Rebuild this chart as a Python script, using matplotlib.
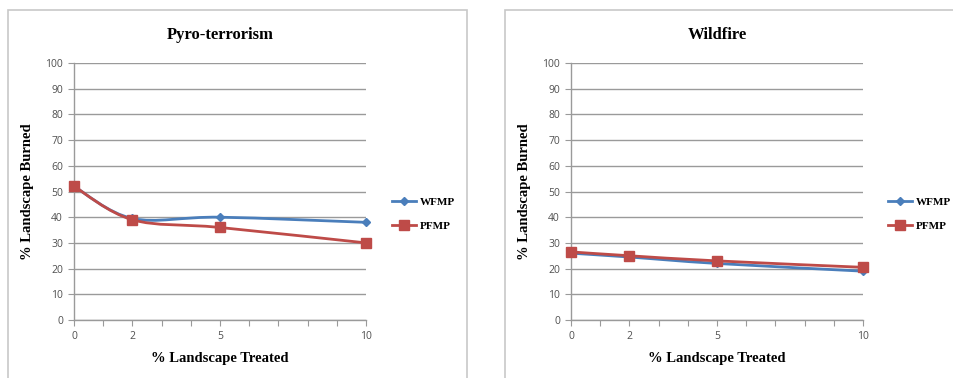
import matplotlib.pyplot as plt
import numpy as np
from matplotlib.path import Path
from matplotlib.patches import PathPatch, Rectangle
from matplotlib.lines import Line2D

# % landscape treated
treated = [0, 2, 5, 10]

# pyro-terrorism scenario
pyro_wfmp = [52, 39.5, 40, 38]
pyro_pfmp = [52, 39, 36, 30]

# wildfire scenario
wild_wfmp = [26, 24.5, 22, 19]
wild_pfmp = [26.5, 25, 23, 20.5]

titles = ['Pyro-terrorism', 'Wildfire']
series_names = ['WFMP', 'PFMP']
x_labels = ['0', '', '2', '', '', '5', '', '', '', '', '10']

BLUE = '#4A7EBB'
RED = '#BE4B48'
GRID = '#9A9A9A'
SERIF = 'Liberation Serif'
SANS = 'Open Sans'

W, H = 954, 378


def smooth_path(xs, ys):
    # Excel-style smoothed line: cubic bezier through every point
    pts = np.column_stack([xs, ys]).astype(float)
    n = len(pts)
    verts = [pts[0]]
    codes = [Path.MOVETO]
    for i in range(n - 1):
        p0 = pts[max(i - 1, 0)]
        p1 = pts[i]
        p2 = pts[i + 1]
        p3 = pts[min(i + 2, n - 1)]
        c1 = p1 + (p2 - p0) / 6.0
        c2 = p2 - (p3 - p1) / 6.0
        verts += [c1, c2, p2]
        codes += [Path.CURVE4] * 3
    return Path(verts, codes)


fig = plt.figure(figsize=(W / 100, H / 100), dpi=100)

# chart area frames
fig.add_artist(Rectangle((8 / W, -0.05), (467 - 8) / W, 1.05 - 10 / H,
                         transform=fig.transFigure, fill=False,
                         edgecolor='#C8C8C8', linewidth=1.2))
fig.add_artist(Rectangle((505 / W, -0.05), 0.6, 1.05 - 10 / H,
                         transform=fig.transFigure, fill=False,
                         edgecolor='#C8C8C8', linewidth=1.2))

panels = [
    (74, titles[0], pyro_wfmp, pyro_pfmp, 392),
    (571, titles[1], wild_wfmp, wild_pfmp, 888),
]

for left_px, title, wfmp, pfmp, leg_px in panels:
    ax = fig.add_axes([left_px / W, (H - 320) / H, 292 / W, 257 / H])
    ax.set_xlim(0, 10)
    ax.set_ylim(0, 100)
    ax.set_yticks(range(0, 101, 10))
    ax.set_xticks(range(0, 11))
    ax.set_xticklabels(x_labels)
    ax.grid(axis='y', color=GRID, linewidth=1.0)
    ax.set_axisbelow(True)
    for side in ['top', 'right']:
        ax.spines[side].set_visible(False)
    for side in ['left', 'bottom']:
        ax.spines[side].set_color(GRID)
        ax.spines[side].set_linewidth(1.0)
    ax.tick_params(length=4, width=0.8, color=GRID, labelsize=7.5,
                   labelcolor='#505050', pad=4)
    for lab in ax.get_xticklabels() + ax.get_yticklabels():
        lab.set_family(SANS)

    for vals, color, marker, ms in [(wfmp, BLUE, 'D', 4), (pfmp, RED, 's', 6.5)]:
        ax.add_patch(PathPatch(smooth_path(treated, vals), fill=False,
                               edgecolor=color, linewidth=2.0, clip_on=False,
                               zorder=3))
        ax.plot(treated, vals, linestyle='none', marker=marker, ms=ms,
                color=color, clip_on=False, zorder=4)

    ax.set_title(title, family=SERIF, fontweight='bold', fontsize=12, pad=17)
    ax.set_xlabel('% Landscape Treated', family=SERIF, fontweight='bold',
                  fontsize=10.5, labelpad=7)
    ax.set_ylabel('% Landscape Burned', family=SERIF, fontweight='bold',
                  fontsize=10.5, labelpad=8)

    handles = [Line2D([], [], color=BLUE, lw=2.0, marker='D', ms=4),
               Line2D([], [], color=RED, lw=2.0, marker='s', ms=6.5)]
    fig.legend(handles, series_names, loc='center left',
               bbox_to_anchor=(leg_px / W, 1 - 214 / H), frameon=False,
               borderpad=0, borderaxespad=0, handlelength=2.2,
               handletextpad=0.3, labelspacing=1.3,
               prop={'family': SERIF, 'weight': 'bold', 'size': 8})

fig.savefig('out.png', dpi=100)
